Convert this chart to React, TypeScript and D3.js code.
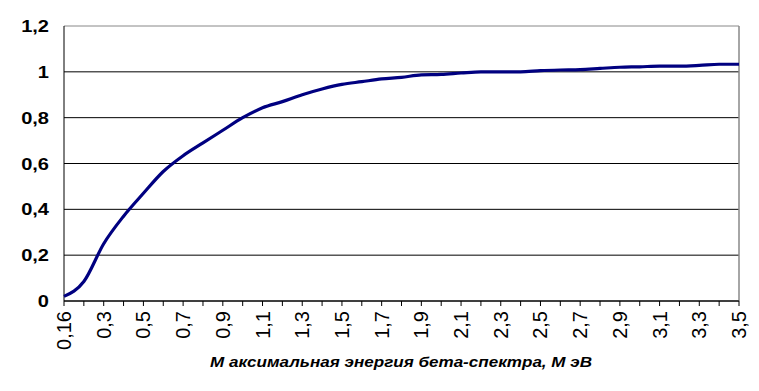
import React from 'react';
import * as d3 from 'd3';

// max beta energy (MeV), category axis
const energies = [
  0.16, 0.2, 0.3, 0.4, 0.5, 0.6, 0.7, 0.8, 0.9, 1.0,
  1.1, 1.2, 1.3, 1.4, 1.5, 1.6, 1.7, 1.8, 1.9, 2.0,
  2.1, 2.2, 2.3, 2.4, 2.5, 2.6, 2.7, 2.8, 2.9, 3.0,
  3.1, 3.2, 3.3, 3.4, 3.5
];

const values = [
  0.02, 0.085, 0.25, 0.37, 0.47, 0.565, 0.634, 0.69, 0.745, 0.8,
  0.843, 0.87, 0.9, 0.925, 0.945, 0.957, 0.969, 0.976, 0.987, 0.989,
  0.995, 1.0, 1.0, 1.0, 1.005, 1.008, 1.01, 1.015, 1.02, 1.022,
  1.025, 1.025, 1.028, 1.033, 1.033
];

const yTicks = [0, 0.2, 0.4, 0.6, 0.8, 1, 1.2];

const xTitle = 'М аксимальная энергия бета-спектра, М эВ';

const fmt = (v: number) => String(v).replace('.', ',');

const width = 759;
const height = 391;
const margin = { top: 26, right: 20, bottom: 90, left: 64 };

export default function App() {
  const innerW = width - margin.left - margin.right;
  const innerH = height - margin.top - margin.bottom;

  const x = d3.scalePoint<number>()
    .domain(energies)
    .range([0, innerW]);

  const y = d3.scaleLinear()
    .domain([0, 1.2])
    .range([innerH, 0]);

  const line = d3.line<number>()
    .x((d, i) => x(energies[i]) as number)
    .y(d => y(d))
    .curve(d3.curveMonotoneX);

  return (
    <svg width={width} height={height}
      style={{ position: 'absolute', left: 0, top: 0, background: '#fff' }}
      fontFamily="'Liberation Sans', Arial, sans-serif">
      <g transform={`translate(${margin.left},${margin.top})`}>
        {yTicks.map(t => (
          <g key={t}>
            <line x1={0} x2={innerW} y1={y(t)} y2={y(t)}
              stroke={t === 1.2 ? '#888' : '#000'} strokeWidth={1} />
            <g transform={`translate(-15,${y(t)}) scale(1.18,1)`}>
              <text dy="0.36em" textAnchor="end"
                fontSize={17} fontWeight="bold" fill="#000">{fmt(t)}</text>
            </g>
          </g>
        ))}
        <line x1={innerW} x2={innerW} y1={0} y2={innerH} stroke="#888" strokeWidth={1.5} />
        <line x1={0} x2={0} y1={0} y2={innerH} stroke="#000" strokeWidth={1} />
        <line x1={0} x2={innerW} y1={innerH} y2={innerH} stroke="#000" strokeWidth={1} />
        {energies.map((e, i) => (
          <g key={e} transform={`translate(${x(e)},${innerH})`}>
            <line y1={0} y2={5} stroke="#000" />
            {i % 2 === 0 && (
              <text transform="translate(0,10) rotate(-90)" dy="0.35em" textAnchor="end"
                fontSize={20} fill="#000">{fmt(e)}</text>
            )}
          </g>
        ))}
        <path d={line(values) as string} fill="none" stroke="#000080" strokeWidth={3.2} />
      </g>
      <text x={401} y={367} textAnchor="middle" fontSize={15} fontWeight="bold"
        fontStyle="italic" fill="#000" textLength={382} lengthAdjust="spacingAndGlyphs">{xTitle}</text>
    </svg>
  );
}
